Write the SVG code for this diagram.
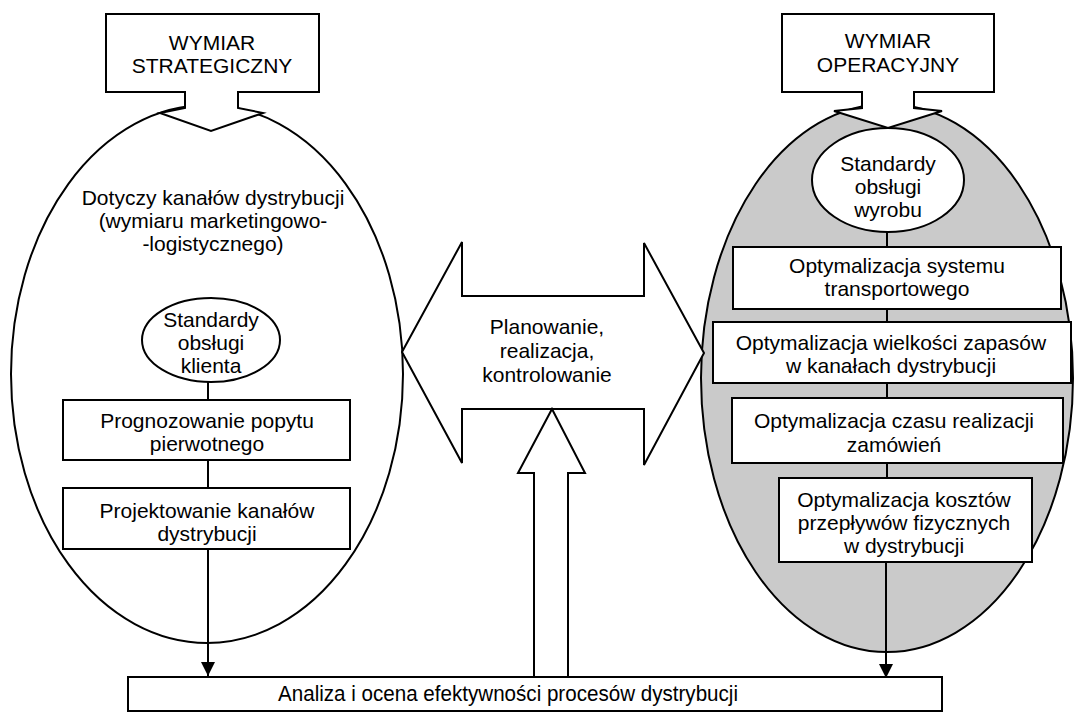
<svg xmlns="http://www.w3.org/2000/svg" width="1086" height="717" viewBox="0 0 1086 717">
  <defs>
    <marker id="arrowhead" viewBox="0 0 14 14" refX="14" refY="7" markerWidth="14" markerHeight="14" markerUnits="userSpaceOnUse" orient="auto">
      <path d="M0,0 L14,7 L0,14 Z" fill="#000"/>
    </marker>
    <style>
      .shape { fill: #fff; stroke: #000; stroke-width: 2; stroke-linejoin: miter; }
      .grey { fill: #cacaca; stroke: #000; stroke-width: 2; }
      .link { fill: none; stroke: #000; stroke-width: 2; }
      text { font-family: "Liberation Sans", Arial, sans-serif; font-size: 21px; fill: #000; text-anchor: middle; }
      .bar-label { font-size: 22px; }
    </style>
  </defs>
  <rect width="1086" height="717" fill="#fff"/>

  <!-- strategic dimension: large ellipse -->
  <g id="strategic-area">
    <ellipse class="shape" cx="207" cy="374" rx="196" ry="269"/>
    <text x="213" y="205">Dotyczy kanałów dystrybucji</text>
    <text x="213" y="228">(wymiaru marketingowo-</text>
    <text x="213" y="251">-logistycznego)</text>
  </g>

  <!-- operational dimension: shaded ellipse -->
  <g id="operational-area">
    <ellipse class="grey" cx="887" cy="378" rx="186" ry="274"/>
  </g>

  <!-- header arrows -->
  <g id="header-strategic">
    <polygon class="shape" points="106,14 319,14 319,92 238,92 238,108 263,113 211,131 160,113 185,108 185,92 106,92"/>
    <text x="212" y="50">WYMIAR</text>
    <text x="212" y="73">STRATEGICZNY</text>
  </g>
  <g id="header-operational">
    <polygon class="shape" points="782,14 994,14 994,92 914,92 914,108 942,111 888,128 834,111 862,108 862,92 782,92"/>
    <text x="888" y="48">WYMIAR</text>
    <text x="888" y="72">OPERACYJNY</text>
  </g>

  <!-- connectors -->
  <g id="connectors">
    <line class="link" x1="208" y1="382" x2="208" y2="400"/>
    <line class="link" x1="208" y1="460" x2="208" y2="488"/>
    <line class="link" x1="208" y1="549" x2="208" y2="676" marker-end="url(#arrowhead)"/>
    <line class="link" x1="887" y1="232" x2="887" y2="247"/>
    <line class="link" x1="887" y1="309" x2="887" y2="322"/>
    <line class="link" x1="887" y1="383" x2="887" y2="398"/>
    <line class="link" x1="887" y1="463" x2="887" y2="478"/>
    <line class="link" x1="886" y1="562" x2="886" y2="678" marker-end="url(#arrowhead)"/>
  </g>

  <!-- left column -->
  <g id="customer-standards">
    <ellipse class="shape" cx="211" cy="340" rx="69" ry="42"/>
    <text x="211" y="327">Standardy</text>
    <text x="211" y="350">obsługi</text>
    <text x="211" y="373">klienta</text>
  </g>
  <g id="demand-forecasting">
    <rect class="shape" x="63" y="400" width="287" height="60"/>
    <text x="207" y="428">Prognozowanie popytu</text>
    <text x="207" y="451">pierwotnego</text>
  </g>
  <g id="channel-design">
    <rect class="shape" x="63" y="488" width="287" height="61"/>
    <text x="207" y="518">Projektowanie kanałów</text>
    <text x="207" y="541">dystrybucji</text>
  </g>

  <!-- right column -->
  <g id="product-standards">
    <ellipse class="shape" cx="888" cy="180" rx="76" ry="52"/>
    <text x="888" y="171">Standardy</text>
    <text x="888" y="194">obsługi</text>
    <text x="888" y="217">wyrobu</text>
  </g>
  <g id="transport-optimisation">
    <rect class="shape" x="733" y="247" width="328" height="62"/>
    <text x="897" y="273">Optymalizacja systemu</text>
    <text x="897" y="296">transportowego</text>
  </g>
  <g id="inventory-optimisation">
    <rect class="shape" x="713" y="322" width="358" height="61"/>
    <text x="891" y="350">Optymalizacja wielkości zapasów</text>
    <text x="891" y="373">w kanałach dystrybucji</text>
  </g>
  <g id="lead-time-optimisation">
    <rect class="shape" x="732" y="398" width="331" height="65"/>
    <text x="894" y="428">Optymalizacja czasu realizacji</text>
    <text x="894" y="452">zamówień</text>
  </g>
  <g id="cost-optimisation">
    <rect class="shape" x="779" y="478" width="253" height="84"/>
    <text x="904" y="507">Optymalizacja kosztów</text>
    <text x="904" y="530">przepływów fizycznych</text>
    <text x="904" y="553">w dystrybucji</text>
  </g>

  <!-- central double arrow -->
  <g id="planning-arrow">
    <polygon class="shape" points="402,352 462,242 462,296 644,296 644,243 704,353 644,465 644,409 462,409 462,463"/>
    <text x="547" y="334">Planowanie,</text>
    <text x="547" y="358">realizacja,</text>
    <text x="547" y="382">kontrolowanie</text>
  </g>

  <!-- feedback arrow from the evaluation bar -->
  <g id="feedback-arrow">
    <polygon class="shape" points="552,409 585,473 568,473 568,677 534,677 534,473 518,473"/>
  </g>

  <!-- evaluation bar -->
  <g id="evaluation">
    <rect class="shape" x="128" y="677" width="814" height="34"/>
    <text class="bar-label" x="508" y="701" textLength="460" lengthAdjust="spacingAndGlyphs">Analiza i ocena efektywności procesów dystrybucji</text>
  </g>
</svg>
